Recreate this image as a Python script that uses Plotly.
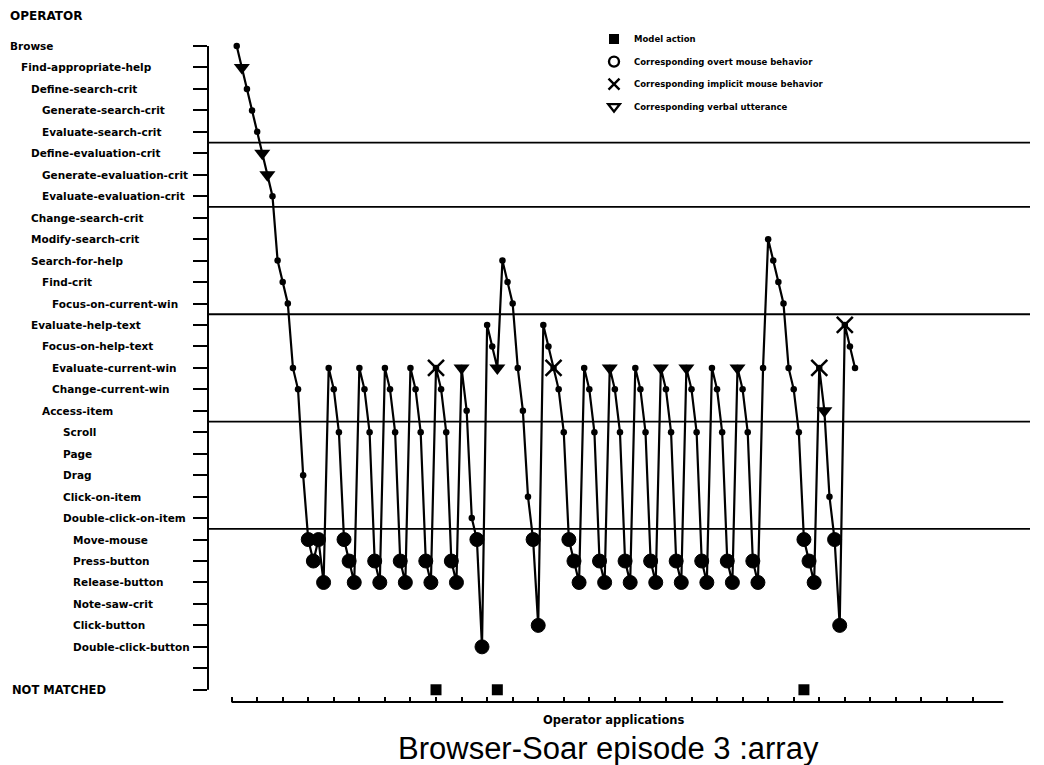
import plotly.graph_objects as go

# ---------------- data ----------------
operators = [
    "Browse", "Find-appropriate-help", "Define-search-crit", "Generate-search-crit",
    "Evaluate-search-crit", "Define-evaluation-crit", "Generate-evaluation-crit",
    "Evaluate-evaluation-crit", "Change-search-crit", "Modify-search-crit", "Search-for-help",
    "Find-crit", "Focus-on-current-win", "Evaluate-help-text", "Focus-on-help-text",
    "Evaluate-current-win", "Change-current-win", "Access-item", "Scroll", "Page", "Drag",
    "Click-on-item", "Double-click-on-item", "Move-mouse", "Press-button", "Release-button",
    "Note-saw-crit", "Click-button", "Double-click-button", "", "NOT MATCHED",
]
# hierarchy depth of each operator (used for label indentation)
operator_depth = [0, 1, 2, 3, 3, 2, 3, 3, 2, 2, 2, 3, 4, 2, 3, 4, 4, 3,
                  5, 5, 5, 5, 5, 6, 6, 6, 6, 6, 6, 0, 0]

# operator row (index into operators) of each successive model action, steps 1..122
model_rows = [
    0, 1, 2, 3, 4, 5, 6, 7,
    10, 11, 12,
    15, 16, 20,
    23, 24, 23, 25,
    15, 16, 18, 23, 24, 25,
    15, 16, 18, 24, 25,
    15, 16, 18, 24, 25,
    15, 16, 18, 24, 25,
    15, 16, 18, 24, 25,
    15, 17, 22, 23, 28,
    13, 14, 15,
    10, 11, 12, 15, 17, 21, 23, 27,
    13, 14, 15, 16, 18, 23, 24, 25,
    15, 16, 18, 24, 25,
    15, 16, 18, 24, 25,
    15, 16, 18, 24, 25,
    15, 16, 18, 24, 25,
    15, 16, 18, 24, 25,
    15, 16, 18, 24, 25,
    15, 16, 18, 24, 25,
    15, 9, 10, 11, 12,
    15, 16, 18, 23, 24, 25,
    15, 17, 21, 23, 27,
    13, 14, 15,
]
steps = list(range(1, len(model_rows) + 1))

overt_mouse_steps = [15, 16, 17, 18, 22, 23, 24, 28, 29, 33, 34, 38, 39, 43, 44, 48, 49,
                     59, 60, 66, 67, 68, 72, 73, 77, 78, 82, 83, 87, 88, 92, 93, 97, 98,
                     102, 103, 112, 113, 114, 118, 119]
implicit_mouse_steps = [40, 63, 115, 120]
verbal_steps = [2, 6, 7, 45, 52, 74, 84, 89, 99, 116]
not_matched_steps = [40, 52, 112]
NOT_MATCHED_ROW = 30

x_tick_steps = list(range(0, 150, 5))
separator_rows = [4.5, 7.5, 12.5, 17.5, 22.5]

# ---------------- figure ----------------
fig = go.Figure()
LABEL_FONT = "DejaVu Sans"

def rows_of(step_list):
    return [model_rows[s - 1] for s in step_list]

# main sequence line with model-action dots
fig.add_trace(go.Scatter(
    x=steps, y=model_rows, mode="lines+markers",
    line=dict(color="black", width=2.2),
    marker=dict(symbol="circle", size=6.5, color="black"),
    showlegend=False, hoverinfo="skip"))

# overt mouse behaviour
fig.add_trace(go.Scatter(
    x=overt_mouse_steps, y=rows_of(overt_mouse_steps), mode="markers",
    marker=dict(symbol="circle", size=14, color="black", line=dict(width=1, color="black")),
    showlegend=False, hoverinfo="skip"))

# implicit mouse behaviour
fig.add_trace(go.Scatter(
    x=implicit_mouse_steps, y=rows_of(implicit_mouse_steps), mode="markers",
    marker=dict(symbol="x-thin-open", size=16, color="black", line=dict(width=2.5, color="black")),
    showlegend=False, hoverinfo="skip"))

# verbal utterance
fig.add_trace(go.Scatter(
    x=verbal_steps, y=rows_of(verbal_steps), mode="markers",
    marker=dict(symbol="triangle-down", size=14, color="black"),
    showlegend=False, hoverinfo="skip"))

# not matched
fig.add_trace(go.Scatter(
    x=not_matched_steps, y=[NOT_MATCHED_ROW] * len(not_matched_steps), mode="markers",
    marker=dict(symbol="square", size=11, color="black"),
    showlegend=False, hoverinfo="skip"))

# legend-only entries
legend_items = [
    ("Model action", dict(symbol="square", size=10, color="black")),
    ("Corresponding overt mouse behavior",
     dict(symbol="circle-open", size=10, color="black", line=dict(width=2.4, color="black"))),
    ("Corresponding implicit mouse behavior",
     dict(symbol="x-thin-open", size=11, color="black", line=dict(width=2.4, color="black"))),
    ("Corresponding verbal utterance",
     dict(symbol="triangle-down-open", size=10, color="black", line=dict(width=2.4, color="black"))),
]
for i, (name, mk) in enumerate(legend_items):
    fig.add_trace(go.Scatter(x=[None], y=[None], mode="markers", name=name, marker=mk,
                             legendgroup=f"g{i}", showlegend=True))

# ---------------- annotations ----------------
ann = []
for row, (lab, depth) in enumerate(zip(operators, operator_depth)):
    if not lab:
        continue
    size = 11.5 if row == NOT_MATCHED_ROW else 10.5
    shift = -198 if row == NOT_MATCHED_ROW else -200 + 10.5 * depth
    ann.append(dict(x=0, xref="paper", y=row, yref="y", text=lab, showarrow=False,
                    xanchor="left", yanchor="middle", xshift=shift,
                    font=dict(family=LABEL_FONT, size=size, color="black", weight="bold")))
ann.append(dict(x=0, xref="paper", y=1, yref="paper", text="OPERATOR", showarrow=False,
                xanchor="left", yanchor="middle", xshift=-200, yshift=14,
                font=dict(family=LABEL_FONT, size=12, color="black", weight="bold")))
ann.append(dict(x=0.4939, xref="paper", y=-0.0268, yref="paper", text="Operator applications",
                showarrow=False, xanchor="center", yanchor="middle",
                font=dict(family=LABEL_FONT, size=11.5, color="black", weight="bold")))
ann.append(dict(x=0.4878, xref="paper", y=-0.0685, yref="paper", text="Browser-Soar episode 3 :array",
                showarrow=False, xanchor="center", yanchor="middle",
                font=dict(family="Liberation Sans", size=31, color="black")))

# ---------------- shapes ----------------
shapes = []
shapes.append(dict(type="line", xref="paper", x0=0, x1=0, yref="y", y0=0, y1=NOT_MATCHED_ROW,
                   line=dict(color="black", width=2)))
shapes.append(dict(type="line", xref="x", x0=0, x1=151, yref="paper", y0=0, y1=0,
                   line=dict(color="black", width=2)))
for r in separator_rows:
    shapes.append(dict(type="line", xref="paper", x0=0, x1=1, yref="y", y0=r, y1=r,
                       line=dict(color="black", width=1.8)))

# page body has an 8px margin, so the figure is 8px smaller than the window
fig.update_layout(
    width=1036, height=757,
    margin=dict(l=200, r=14, t=22, b=63),
    paper_bgcolor="white", plot_bgcolor="white",
    annotations=ann, shapes=shapes,
    legend=dict(x=0.4696, y=1.008, xanchor="left", yanchor="top",
                font=dict(family=LABEL_FONT, size=8.5, color="black", weight="bold"),
                bgcolor="rgba(0,0,0,0)", tracegroupgap=3.5, itemwidth=30),
    xaxis=dict(range=[-4.62, 156.24], showgrid=False, zeroline=False, showline=False,
               ticks="inside", tickvals=x_tick_steps, ticklen=5, tickwidth=2, tickcolor="black",
               showticklabels=False),
    yaxis=dict(range=[30.57, -0.746], showgrid=False, zeroline=False, showline=False,
               ticks="outside", tickvals=list(range(len(operators))), ticklen=14, tickwidth=2,
               tickcolor="black", showticklabels=False),
)

fig.write_html("out.html")
